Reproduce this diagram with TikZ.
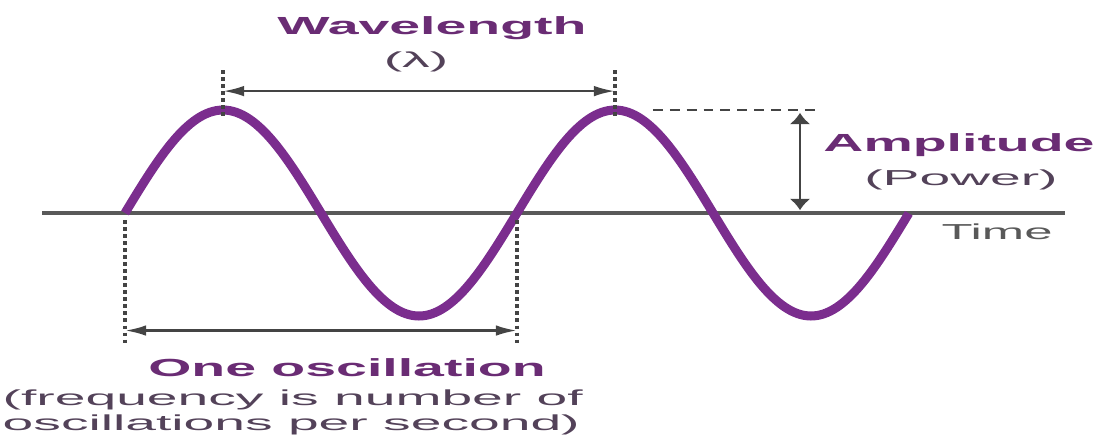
\documentclass[tikz,border=0pt]{standalone}
\usepackage{fontspec}
\setmainfont{Liberation Sans}
\usetikzlibrary{arrows.meta}
\definecolor{wavepurple}{HTML}{7B2D8E}
\definecolor{plum}{HTML}{6A2C74}
\definecolor{black80}{HTML}{444444}
\definecolor{black60}{HTML}{595959}
\definecolor{slateplum}{HTML}{534259}

\begin{document}
\begin{tikzpicture}[
    x=0.025cm, y=0.025cm,
    headlabel/.style={font=\fontsize{17.6}{20}\selectfont\bfseries, text=plum, xscale=2.24, transform shape, inner sep=0pt},
    notelabel/.style={font=\fontsize{15.4}{17.8}\selectfont, text=slateplum, xscale=2.55, transform shape, inner sep=0pt},
    guideline/.style={black80, line width=2.6pt, dash pattern=on 2.6pt off 2.4pt},
    spanarrow/.style={black80, line width=1.8pt, {Latex[length=15pt,width=7.5pt]}-{Latex[length=15pt,width=7.5pt]}},
    risearrow/.style={black80, line width=2pt, {Latex[length=8pt,width=15pt]}-{Latex[length=8pt,width=15pt]}},
]
\useasboundingbox (0,0) rectangle (1100,-437);

% Wave geometry (pixel units)
\def\xstart{125}
\def\period{392}
\def\amp{103}
\def\axisy{-213}

% Time axis
\coordinate (axisL) at (42,\axisy);
\coordinate (axisR) at (1065,\axisy);
\draw[black60, line width=2.2pt] (axisL) -- (axisR);

% Sine wave, two full periods (\x counts periods)
\draw[wavepurple, line width=6.4pt]
    plot[domain=0:2, samples=121, smooth] ({\xstart+\period*\x}, {\axisy+\amp*sin(360*\x)});

% Key points on the wave
\coordinate (peakA) at (223,-110);
\coordinate (peakB) at (615,-110);
\coordinate (zeroA) at (125,\axisy);
\coordinate (zeroB) at (517,\axisy);

% Wavelength guides and arrow
\coordinate (wlA) at (223,-70);
\coordinate (wlB) at (615,-70);
\draw[guideline] (wlA) -- ([yshift=-5]peakA);
\draw[guideline] (wlB) -- ([yshift=-5]peakB);
\draw[spanarrow] ([yshift=-15]wlA) -- ([yshift=-15]wlB);

\node[headlabel] (wavelength) at (432,-28) {Wavelength};
\node[notelabel] (lambda) at (416,-62) {(λ)};

% Amplitude
\coordinate (ampTop) at (800,-110);
\coordinate (ampBot) at (800,\axisy);
\coordinate (dashEnd) at (817,-110);
\draw[black80, line width=1.6pt, dash pattern=on 7pt off 5pt] ([xshift=27]peakB) -- (dashEnd);
\draw[risearrow] ([yshift=-2]ampTop) -- ([yshift=2]ampBot);

\node[headlabel] (amplitude) at (959,-145) {Amplitude};
\node[notelabel] (power) at (961,-180) {(Power)};
\node[notelabel, text=black60, xscale=0.92] (time) at (997,-232) {Time};

% One oscillation guides and arrow
\coordinate (oscA) at (125,-346);
\coordinate (oscB) at (517,-346);
\draw[guideline] ([yshift=-5]zeroA) -- (oscA);
\draw[guideline] ([yshift=-5]zeroB) -- (oscB);
\draw[spanarrow] ([yshift=11]oscA) -- ([yshift=11]oscB);

\node[headlabel] (oscillation) at (347,-368) {One oscillation};
\node[notelabel, align=left, anchor=west] (frequency) at (2,-412)
    {(frequency is number of\\oscillations per second)};

\end{tikzpicture}
\end{document}
